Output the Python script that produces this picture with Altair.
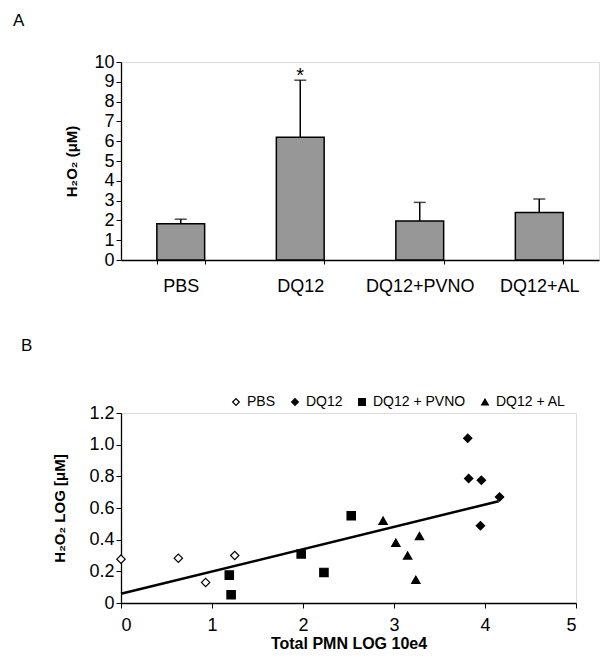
import altair as alt
import pandas as pd

FONT = "Liberation Sans, Arial, Helvetica, sans-serif"

# ---- Panel A data ----
categories = ["PBS", "DQ12", "DQ12+PVNO", "DQ12+AL"]
means = [1.83, 6.2, 1.97, 2.40]
upper = [2.06, 9.08, 2.91, 3.08]
star = ["", "*", "", ""]

# ---- Panel B data ----
series = ["PBS", "DQ12", "DQ12 + PVNO", "DQ12 + AL"]
pbs_x = [0.0, 0.63, 0.93, 1.25]
pbs_y = [0.277, 0.283, 0.13, 0.30]
dq_x = [3.81, 3.82, 3.96, 4.16, 3.95]
dq_y = [1.04, 0.786, 0.775, 0.67, 0.488]
pvno_x = [1.19, 1.21, 1.98, 2.23, 2.53]
pvno_y = [0.176, 0.052, 0.31, 0.193, 0.551]
al_x = [2.88, 3.02, 3.28, 3.15, 3.24]
al_y = [0.52, 0.381, 0.423, 0.30, 0.147]
trend_x = [0.0, 4.15]
trend_y = [0.058, 0.643]

dfA = pd.DataFrame({"cat": categories, "mean": means, "upper": upper, "star": star})

rows = []
for name, xs, ys in zip(series, [pbs_x, dq_x, pvno_x, al_x], [pbs_y, dq_y, pvno_y, al_y]):
    for xv, yv in zip(xs, ys):
        rows.append({"series": name, "x": xv, "y": yv})
dfB = pd.DataFrame(rows)
dfT = pd.DataFrame({"x": trend_x, "y": trend_y})

axA_x = alt.Axis(labelAngle=0, tickBand="extent", labelFontSize=18, labelFont=FONT,
                 labelColor="black", domainColor="black", tickColor="black",
                 tickSize=4, labelPadding=13, domainWidth=1.3)
axA_y = alt.Axis(values=list(range(0, 11)), format="d", labelOverlap=False, grid=False,
                 labelFontSize=18, labelFont=FONT,
                 labelColor="black", domainColor="black", tickColor="black",
                 tickSize=5, titleFontSize=15, titleFont=FONT, titleColor="black",
                 titleFontWeight="bold", titlePadding=14, domainWidth=1.3)
scA_x = alt.Scale(paddingInner=0.6, paddingOuter=0.3)
scA_y = alt.Scale(domain=[0, 10], nice=False)


def xa():
    return alt.X("cat:N", sort=categories, title=None, scale=scA_x, axis=axA_x)


def ya(field):
    return alt.Y(field, title="H₂O₂ (μM)", scale=scA_y, axis=axA_y)


bars = alt.Chart(dfA).mark_bar(color="#979797", stroke="black", strokeWidth=1.5).encode(x=xa(), y=ya("mean:Q"))
err = alt.Chart(dfA).mark_rule(color="black", strokeWidth=1.5).encode(
    x=xa(), y=ya("mean:Q"), y2="upper:Q")
cap = alt.Chart(dfA).mark_tick(color="black", thickness=1.5, size=12).encode(
    x=xa(), y=ya("upper:Q"))
stars = alt.Chart(dfA).mark_text(font=FONT, fontSize=20, baseline="top", dy=-14, color="black").encode(
    x=xa(), y=ya("upper:Q"), text="star:N")

chartA = alt.layer(bars, err, cap, stars).properties(
    width=478, height=198,
    title=alt.TitleParams("A", anchor="start", frame="group", fontSize=17, fontWeight="normal",
                          font=FONT, color="black", dx=-108, offset=23))

xB = alt.X("x:Q", title="Total PMN LOG 10e4", scale=alt.Scale(domain=[0, 5], nice=False, padding=0, zero=False),
           axis=alt.Axis(values=[0, 1, 2, 3, 4, 5], format="d", labelOverlap=False, grid=False,
                         labelFontSize=18, labelFont=FONT,
                         labelColor="black", domainColor="black", tickColor="black", tickSize=5,
                         labelPadding=8, titleFontSize=16, titleFont=FONT, titleColor="black",
                         titleFontWeight="bold", titlePadding=1, domainWidth=1.3))
yB = alt.Y("y:Q", title="H₂O₂ LOG [μM]", scale=alt.Scale(domain=[0, 1.2], nice=False, padding=0),
           axis=alt.Axis(values=[0, 0.2, 0.4, 0.6, 0.8, 1.0, 1.2], grid=False, labelOverlap=False,
                         labelExpr="datum.value == 0 ? '0' : format(datum.value, '.1f')",
                         labelFontSize=18, labelFont=FONT, labelColor="black",
                         domainColor="black", tickColor="black", tickSize=5,
                         titleFontSize=15, titleFont=FONT, titleColor="black",
                         titleFontWeight="bold", titlePadding=21, domainWidth=1.3))

legend = alt.Legend(title=None, orient="none", direction="horizontal", legendX=108, legendY=-18,
                    labelFontSize=14, labelFont=FONT, labelColor="black", symbolSize=45,
                    columnPadding=12, symbolStrokeColor="black", symbolStrokeWidth=1.2, labelOffset=4)

sym_scale_shape = alt.Scale(domain=series, range=["diamond", "diamond", "square", "triangle-up"])
sym_scale_fill = alt.Scale(domain=series, range=["white", "black", "black", "black"])
sym_scale_stroke = alt.Scale(domain=series, range=["black", "black", "black", "black"])

points = alt.Chart(dfB).mark_point(filled=True, strokeWidth=1.2, size=70, opacity=1).encode(
    x=xB, y=yB,
    shape=alt.Shape("series:N", sort=series, scale=sym_scale_shape, legend=legend),
    fill=alt.Fill("series:N", sort=series, scale=sym_scale_fill, legend=legend),
    stroke=alt.Stroke("series:N", sort=series, scale=sym_scale_stroke, legend=legend),
)
trend = alt.Chart(dfT).mark_line(color="black", strokeWidth=2.5).encode(x=xB, y=yB)

chartB = alt.layer(trend, points).properties(
    width=455, height=190,
    title=alt.TitleParams("B", anchor="start", frame="group", fontSize=17, fontWeight="normal",
                          font=FONT, color="black", dx=-100, offset=40))

chart = alt.vconcat(chartA, chartB, spacing=153, bounds="flush").resolve_legend(
    shape="independent", fill="independent", stroke="independent"
).resolve_scale(shape="independent", fill="independent", stroke="independent").properties(
    padding={"left": 4, "top": 3, "right": 0, "bottom": 0}
).configure_view(stroke=None).configure(font=FONT)

chart.save("out.html", embed_options={"renderer": "svg", "actions": False})
